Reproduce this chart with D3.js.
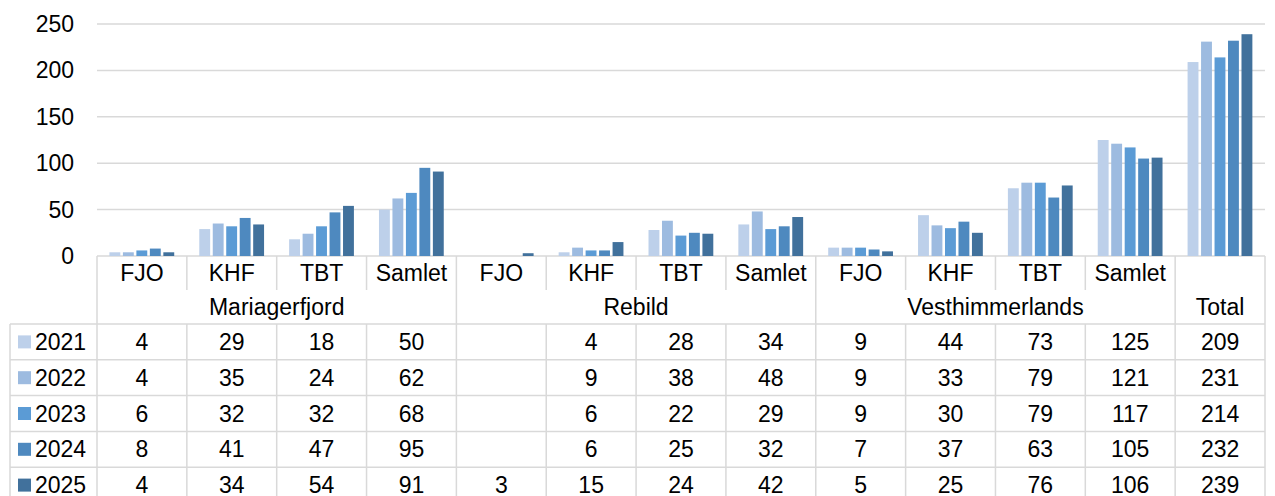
<!DOCTYPE html>
<html>
<head>
<meta charset="utf-8">
<script src="https://cdn.jsdelivr.net/npm/d3@7"></script>
<style>
  body { margin: 0; background: #fff; }
  text { font-family: "Liberation Sans", Arial, sans-serif; fill: #000; }
</style>
</head>
<body>
<script>
var categories = ["FJO", "KHF", "TBT", "Samlet", "FJO", "KHF", "TBT", "Samlet", "FJO", "KHF", "TBT", "Samlet", ""];
var groups = [
  {label: "Mariagerfjord", from: 0, to: 4},
  {label: "Rebild", from: 4, to: 8},
  {label: "Vesthimmerlands", from: 8, to: 12},
  {label: "Total", from: 12, to: 13}
];
var years = ["2021", "2022", "2023", "2024", "2025"];
var v2021 = [4, 29, 18, 50, null, 4, 28, 34, 9, 44, 73, 125, 209];
var v2022 = [4, 35, 24, 62, null, 9, 38, 48, 9, 33, 79, 121, 231];
var v2023 = [6, 32, 32, 68, null, 6, 22, 29, 9, 30, 79, 117, 214];
var v2024 = [8, 41, 47, 95, null, 6, 25, 32, 7, 37, 63, 105, 232];
var v2025 = [4, 34, 54, 91, 3, 15, 24, 42, 5, 25, 76, 106, 239];
var series = [v2021, v2022, v2023, v2024, v2025];
var yTicks = [0, 50, 100, 150, 200, 250];
var colors = ["#bdd0ea", "#9dbbe0", "#5b9bd5", "#4e89bf", "#41719c"];

var width = 1275, height = 496,
    plotLeft = 97, plotRight = 1265, plotTop = 24, zeroY = 256,
    tableLeft = 10,
    headRow1 = 290, headRow2 = 324,
    rowH = 35.8,
    fontSize = "23px",
    grid = "#d9d9d9";

var svg = d3.select("body").append("svg")
  .attr("width", width)
  .attr("height", height);

var y = d3.scaleLinear().domain([0, 250]).range([zeroY, plotTop]);
var x0 = d3.scaleBand().domain(d3.range(categories.length)).range([plotLeft, plotRight]);
var cw = x0.bandwidth();
var x1 = d3.scaleBand().domain(years).range([cw * 0.125, cw * 0.875]);

// gridlines
svg.append("g").selectAll("line")
  .data(yTicks)
  .enter().append("line")
  .attr("x1", plotLeft).attr("x2", plotRight)
  .attr("y1", function(d) { return y(d); })
  .attr("y2", function(d) { return y(d); })
  .attr("stroke", grid).attr("stroke-width", 1.5);

svg.append("g").selectAll("text")
  .data(yTicks)
  .enter().append("text")
  .attr("x", 74)
  .attr("y", function(d) { return y(d); })
  .attr("dy", ".35em")
  .attr("text-anchor", "end")
  .style("font-size", fontSize)
  .text(function(d) { return d; });

// bars
series.forEach(function(vals, s) {
  svg.append("g").selectAll("rect")
    .data(vals.map(function(v, i) { return {i: i, v: v}; }).filter(function(d) { return d.v != null; }))
    .enter().append("rect")
    .attr("x", function(d) { return x0(d.i) + x1(years[s]) + 1.2; })
    .attr("width", x1.bandwidth() - 2.6)
    .attr("y", function(d) { return y(d.v); })
    .attr("height", function(d) { return zeroY - y(d.v); })
    .attr("fill", colors[s]);
});

// table lines
var lines = svg.append("g").attr("stroke", grid).attr("stroke-width", 1.5);
var rowsTop = headRow2;
var bottom = rowsTop + rowH * 5 + 10;
function hline(xa, xb, yy) { lines.append("line").attr("x1", xa).attr("x2", xb).attr("y1", yy).attr("y2", yy); }
function vline(xx, ya, yb) { lines.append("line").attr("x1", xx).attr("x2", xx).attr("y1", ya).attr("y2", yb); }

hline(tableLeft, plotRight, headRow2);
for (var r = 1; r < 5; r++) hline(tableLeft, plotRight, rowsTop + rowH * r);
vline(tableLeft, headRow2, bottom);
vline(plotLeft, zeroY, bottom);
vline(plotRight, zeroY, bottom);
for (var c = 1; c < categories.length; c++) {
  var xx = x0(c);
  if (c % 4 === 0) {
    vline(xx, zeroY, bottom);
  } else {
    vline(xx, zeroY, headRow1);
    vline(xx, headRow2, bottom);
  }
}

// header texts
svg.append("g").selectAll("text")
  .data(categories)
  .enter().append("text")
  .attr("x", function(d, i) { return x0(i) + cw / 2; })
  .attr("y", (zeroY + headRow1) / 2)
  .attr("dy", ".35em")
  .attr("text-anchor", "middle")
  .style("font-size", fontSize)
  .text(function(d) { return d; });

svg.append("g").selectAll("text")
  .data(groups)
  .enter().append("text")
  .attr("x", function(d) { return (x0(d.from) + x0(d.to - 1) + cw) / 2; })
  .attr("y", (headRow1 + headRow2) / 2)
  .attr("dy", ".35em")
  .attr("text-anchor", "middle")
  .style("font-size", fontSize)
  .text(function(d) { return d.label; });

// data rows
series.forEach(function(vals, s) {
  var cy = rowsTop + rowH * s + rowH / 2;
  var row = svg.append("g");
  row.append("rect")
    .attr("x", 18).attr("y", cy - 6.5)
    .attr("width", 13).attr("height", 13)
    .attr("fill", colors[s]);
  row.append("text")
    .attr("x", 35).attr("y", cy).attr("dy", ".35em")
    .style("font-size", fontSize)
    .text(years[s]);
  row.selectAll("text.v")
    .data(vals)
    .enter().append("text")
    .attr("class", "v")
    .attr("x", function(d, i) { return x0(i) + cw / 2; })
    .attr("y", cy).attr("dy", ".35em")
    .attr("text-anchor", "middle")
    .style("font-size", fontSize)
    .text(function(d) { return d == null ? "" : d; });
});
</script>
</body>
</html>
